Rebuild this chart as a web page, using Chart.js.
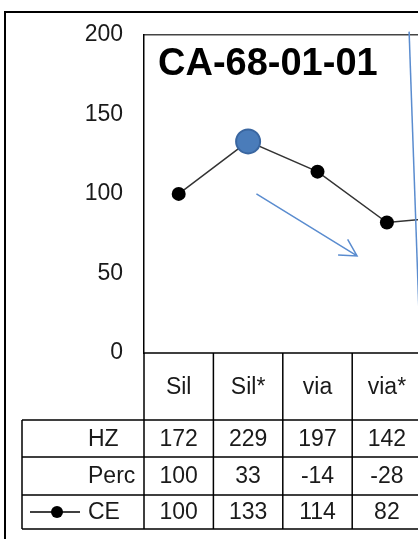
<!DOCTYPE html>
<html>
<head>
<meta charset="utf-8">
<script src="https://cdn.jsdelivr.net/npm/chart.js@4.4.1/dist/chart.umd.min.js"></script>
<style>
    html, body { margin: 0; padding: 0; background: #fff; }
    #wrap { width: 418px; height: 539px; overflow: hidden; position: relative; }
    #ceChart { position: absolute; left: 0; top: 0; }
</style>
</head>
<body>
<div id="wrap">
    <canvas id="ceChart" width="492" height="539"></canvas>
</div>
<script>
// categories (the 5th one is cut off at the right edge of the picture)
const categories = ["Sil", "Sil*", "via", "via*", ""];
const hzValues = [172, 229, 197, 142, null];
const percValues = [100, 33, -14, -28, null];
const ceValues = [100, 133, 114, 82, 86];
const yTicks = [0, 50, 100, 150, 200];

const FONT = '"Liberation Sans", Arial, sans-serif';
const TEXT_COLOR = "#1a1a1a";
const ARROW_BLUE = "#5a8ccf";

// rows of the data table under the plot
const tableRows = [
    { label: "HZ", values: hzValues, top: 420, bottom: 457 },
    { label: "Perc", values: percValues, top: 457, bottom: 495 },
    { label: "CE", values: ceValues, top: 495, bottom: 529, marker: true }
];

const framePlugin = {
    id: 'frame',
    beforeDraw(chart) {
        const { ctx, chartArea } = chart;
        ctx.save();
        // outer frame
        ctx.strokeStyle = '#000';
        ctx.lineWidth = 2;
        ctx.strokeRect(5, 12, 600, 540);
        // plot area top line
        ctx.strokeStyle = '#444';
        ctx.lineWidth = 1.5;
        ctx.beginPath();
        ctx.moveTo(chartArea.left, chartArea.top);
        ctx.lineTo(chartArea.right, chartArea.top);
        ctx.stroke();
        ctx.restore();
    },
    afterDatasetsDraw(chart) {
        const { ctx, scales } = chart;
        const x = scales.x, y = scales.y;
        ctx.save();
        ctx.strokeStyle = ARROW_BLUE;
        ctx.lineWidth = 1.5;
        // arrow pointing down-right
        const x1 = x.getPixelForValue(1.12), y1 = y.getPixelForValue(100);
        const x2 = x.getPixelForValue(2.57), y2 = y.getPixelForValue(61);
        ctx.beginPath();
        ctx.moveTo(x1, y1);
        ctx.lineTo(x2, y2);
        const ang = Math.atan2(y2 - y1, x2 - x1);
        const len = 19;
        ctx.moveTo(x2 - len * Math.cos(ang - 0.5), y2 - len * Math.sin(ang - 0.5));
        ctx.lineTo(x2, y2);
        ctx.lineTo(x2 - len * Math.cos(ang + 0.5), y2 - len * Math.sin(ang + 0.5));
        ctx.stroke();
        // long near-vertical line at the right edge
        ctx.beginPath();
        ctx.moveTo(x.getPixelForValue(3.32), y.getPixelForValue(202));
        ctx.lineTo(x.getPixelForValue(3.46), y.getPixelForValue(28));
        ctx.stroke();
        ctx.restore();
    },
    afterDraw(chart) {
        const { ctx, chartArea, scales } = chart;
        const x = scales.x;
        const step = x.getPixelForValue(1) - x.getPixelForValue(0);
        ctx.save();

        // title
        ctx.fillStyle = '#000';
        ctx.font = 'bold 38px ' + FONT;
        ctx.textAlign = 'left';
        ctx.textBaseline = 'middle';
        ctx.fillText('CA-68-01-01', chartArea.left + 14, 65);

        // table lines
        const tableBottom = tableRows[tableRows.length - 1].bottom;
        ctx.strokeStyle = '#000';
        ctx.lineWidth = 1.5;
        ctx.beginPath();
        // x axis line
        ctx.moveTo(chartArea.left, chartArea.bottom);
        ctx.lineTo(chartArea.right, chartArea.bottom);
        // column dividers
        categories.forEach((c, i) => {
            const bx = x.getPixelForValue(i) - step / 2;
            ctx.moveTo(bx, chartArea.bottom);
            ctx.lineTo(bx, tableBottom);
        });
        ctx.moveTo(chartArea.right, chartArea.bottom);
        ctx.lineTo(chartArea.right, tableBottom);
        // row lines incl. label column
        tableRows.forEach(r => {
            ctx.moveTo(22, r.top);
            ctx.lineTo(chartArea.right, r.top);
        });
        ctx.moveTo(22, tableBottom);
        ctx.lineTo(chartArea.right, tableBottom);
        ctx.moveTo(22, tableRows[0].top);
        ctx.lineTo(22, tableBottom);
        ctx.stroke();

        // header
        ctx.fillStyle = TEXT_COLOR;
        ctx.font = '23px ' + FONT;
        ctx.textAlign = 'center';
        categories.forEach((c, i) => {
            ctx.fillText(c, x.getPixelForValue(i), (chartArea.bottom + tableRows[0].top) / 2 + 1);
        });

        // rows
        tableRows.forEach(r => {
            const cy = (r.top + r.bottom) / 2 + 1;
            ctx.textAlign = 'left';
            ctx.fillText(r.label, 88, cy);
            ctx.textAlign = 'center';
            r.values.forEach((v, i) => {
                if (v !== null && categories[i] !== "") ctx.fillText(String(v), x.getPixelForValue(i), cy);
            });
            if (r.marker) {
                ctx.strokeStyle = '#000';
                ctx.lineWidth = 1.5;
                ctx.beginPath();
                ctx.moveTo(30, cy - 1);
                ctx.lineTo(80, cy - 1);
                ctx.stroke();
                ctx.fillStyle = '#000';
                ctx.beginPath();
                ctx.arc(57, cy - 1, 6, 0, Math.PI * 2);
                ctx.fill();
                ctx.fillStyle = TEXT_COLOR;
            }
        });
        ctx.restore();
    }
};

new Chart(document.getElementById("ceChart"), {
    type: "line",
    data: {
        labels: categories,
        datasets: [{
            label: "CE",
            data: ceValues,
            borderColor: "#333",
            borderWidth: 1.5,
            pointRadius: [7, 12, 7, 7, 7],
            pointBackgroundColor: ["#000", "#4a7cba", "#000", "#000", "#000"],
            pointBorderColor: ["#000", "#3a66a0", "#000", "#000", "#000"],
            pointBorderWidth: [0, 2, 0, 0, 0],
            tension: 0
        }]
    },
    options: {
        responsive: false,
        animation: false,
        clip: false,
        layout: { autoPadding: false, padding: { top: 31, bottom: 186, left: 0, right: 1 } },
        scales: {
            x: {
                type: 'category',
                display: false,
                offset: true
            },
            y: {
                min: 0,
                max: 200,
                afterBuildTicks(scale) {
                    scale.ticks = yTicks.map(v => ({ value: v }));
                },
                afterFit(scale) {
                    scale.width = 144;
                },
                grid: { display: false, drawTicks: false },
                border: { color: '#000', width: 1.5 },
                ticks: {
                    padding: 21,
                    color: TEXT_COLOR,
                    font: { family: FONT, size: 23 }
                }
            }
        },
        plugins: {
            legend: { display: false },
            tooltip: { enabled: false }
        }
    },
    plugins: [framePlugin]
});
</script>
</body>
</html>
